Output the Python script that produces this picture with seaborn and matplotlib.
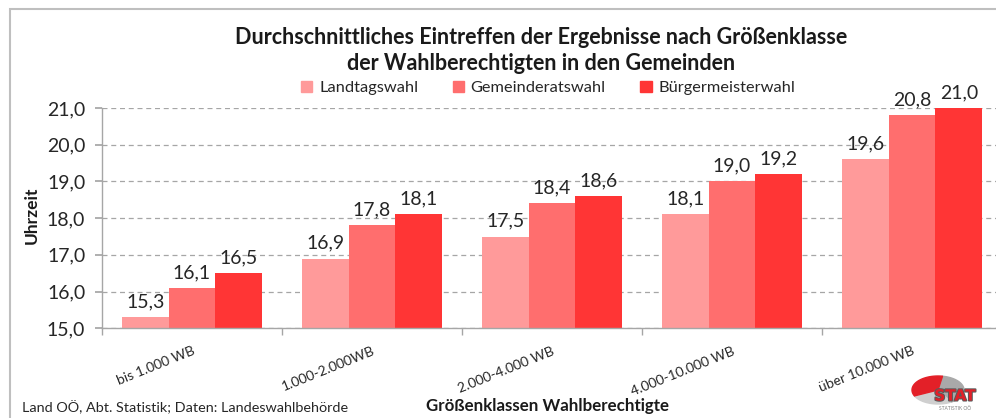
import pandas as pd
import numpy as np
import matplotlib.pyplot as plt
import matplotlib.patches as mpatches
import matplotlib.patheffects as pe
import seaborn as sns

sns.set_theme(style="white")
plt.rcParams['font.family'] = ['Lato', 'DejaVu Sans']

# data
klassen = ['bis 1.000 WB', '1.000-2.000WB', '2.000-4.000 WB', '4.000-10.000 WB', 'über 10.000 WB']
wahlen = ['Landtagswahl', 'Gemeinderatswahl', 'Bürgermeisterwahl']
landtag = [15.3, 16.9, 17.5, 18.1, 19.6]
gemeinderat = [16.1, 17.8, 18.4, 19.0, 20.8]
buergermeister = [16.5, 18.1, 18.6, 19.2, 21.0]
farben = ['#FF9A9A', '#FF6E6E', '#FF3535']

df = pd.DataFrame({
    'klasse': klassen * 3,
    'wahl': np.repeat(wahlen, len(klassen)),
    'wert': landtag + gemeinderat + buergermeister,
})

fig = plt.figure(figsize=(9.96, 4.18), dpi=100)
ax = fig.add_axes([102 / 996, 89.7 / 418, 900 / 996, 220.3 / 418])

sns.barplot(data=df, x='klasse', y='wert', hue='wahl', palette=farben,
            width=0.78, gap=0, saturation=1, linewidth=0, edgecolor='none',
            ax=ax, legend=False)

ax.set_ylim(15, 21)
ax.set_xlim(-0.5, 4.5)
yt = np.arange(15, 21.1, 1)
ax.set_yticks(yt)
ax.set_yticklabels([f"{v:.1f}".replace('.', ',') for v in yt], fontsize=14)
ax.yaxis.grid(True, linestyle=(0, (4, 3)), color='#A6A6A6', lw=0.9)
ax.set_axisbelow(True)

# value labels
for cont in ax.containers:
    vals = [b.get_height() for b in cont]
    ax.bar_label(cont, labels=[f"{v:.1f}".replace('.', ',') for v in vals],
                 padding=5, fontsize=14, color='#262626')

for s in ['top', 'right']:
    ax.spines[s].set_visible(False)
for s in ['left', 'bottom']:
    ax.spines[s].set_color('#A6A6A6')
    ax.spines[s].set_linewidth(1)

ax.tick_params(axis='y', which='major', left=True, direction='out', length=5,
               color='#A6A6A6', pad=7, labelcolor='#262626')
ax.set_xticks(range(len(klassen)))
ax.set_xticklabels(klassen, rotation=22, ha='right', rotation_mode='anchor', fontsize=10, color='#262626')
ax.set_xticks(np.arange(-0.5, 5, 1), minor=True)
ax.tick_params(axis='x', which='major', length=0, pad=12)
ax.tick_params(axis='x', which='minor', bottom=True, direction='out', length=5, color='#A6A6A6')

ax.set_xlabel('')
ax.set_ylabel('Uhrzeit', fontsize=12.5, fontweight='bold', color='#1a1a1a', va='center')
ax.yaxis.set_label_coords(-70 / 900, 0.514)

# legend
handles = [mpatches.Patch(color=c, label=l) for c, l in zip(farben, wahlen)]
fig.legend(handles=handles, loc='center', bbox_to_anchor=(548 / 996, 1 - 88 / 418), ncol=3,
           frameon=False, fontsize=11.8, handlelength=0.7, handleheight=0.7,
           handletextpad=0.4, columnspacing=2.1)

# titles and footer
fig.text(541 / 996, 1 - 38 / 418, 'Durchschnittliches Eintreffen der Ergebnisse nach Größenklasse',
         ha='center', va='center', fontsize=15.5, fontweight='bold', color='#1a1a1a')
fig.text(541 / 996, 1 - 64 / 418, 'der Wahlberechtigten in den Gemeinden',
         ha='center', va='center', fontsize=15.5, fontweight='bold', color='#1a1a1a')
fig.text(548 / 996, 1 - 406 / 418, 'Größenklassen Wahlberechtigte',
         ha='center', va='center', fontsize=12.2, fontweight='bold', color='#1a1a1a')
fig.text(22 / 996, 1 - 407 / 418, 'Land OÖ, Abt. Statistik; Daten: Landeswahlbehörde',
         ha='left', va='center', fontsize=10.4, color='#262626')

# chart frame (cut off at right and bottom)
fig.add_artist(mpatches.Rectangle((10 / 996, -0.1), 1.2, 1.1 - 9 / 418, transform=fig.transFigure,
                                  fill=False, edgecolor='#BFBFBF', lw=1.5))

# STAT logo, drawn in figure pixels
lax = fig.add_axes([0, 0, 1, 1], zorder=5)
lax.set_xlim(0, 996)
lax.set_ylim(418, 0)
lax.axis('off')
cx, cy, a, b = 938, 390, 26, 14


def segment(t0, t1):
    t = np.radians(np.linspace(t0, t1, 40))
    return np.vstack([[cx, cy], np.column_stack([cx + a * np.cos(t), cy - b * np.sin(t)]), [cx, cy]])


lax.add_patch(mpatches.Polygon(segment(-60, 80), color='#A9A9A9'))
lax.add_patch(mpatches.Polygon(segment(205, 300), color='#CFCFCF'))
lax.add_patch(mpatches.Polygon(segment(80, 205), color='#E32028'))
lax.text(955, 396, 'STAT', ha='center', va='center', fontsize=11, fontweight='black',
         color='#E32028', family='DejaVu Sans',
         path_effects=[pe.withStroke(linewidth=1.5, foreground='#5A5A5A')])
lax.text(955, 408, 'STATISTIK OÖ', ha='center', va='center', fontsize=3.5, color='#808080')

fig.savefig('out.png', dpi=100)
